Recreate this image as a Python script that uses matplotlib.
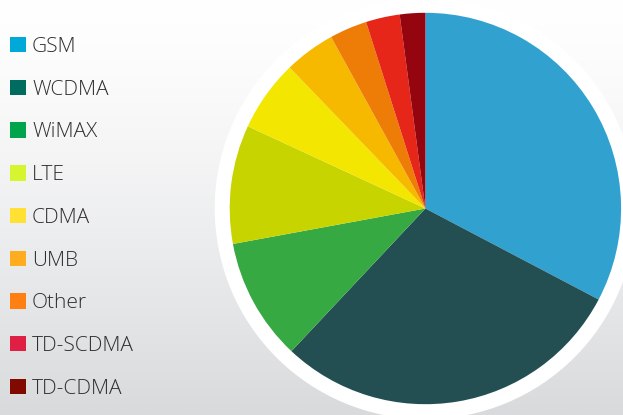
import numpy as np
import matplotlib
matplotlib.use('Agg')
from matplotlib import pyplot as plt
from matplotlib.patches import Patch, Circle

# market share of mobile technologies (percent)
techs = ['GSM', 'WCDMA', 'WiMAX', 'LTE', 'CDMA', 'UMB', 'Other', 'TD-SCDMA', 'TD-CDMA']
share = [32.7, 29.3, 10.1, 9.8, 5.9, 4.2, 3.1, 2.8, 2.1]

pie_cols = ['#31a2cf', '#234f53', '#36a942', '#c8d400', '#f3e600',
            '#f7b800', '#ee7d08', '#e52618', '#950510']
legend_cols = ['#00a9d8', '#006c60', '#00a44a', '#d7f52f', '#ffe033',
               '#ffad1f', '#ff7f11', '#e01f45', '#800a00']

fig = plt.figure(figsize=(6.23, 4.15), dpi=100)

# background gradient
bg = fig.add_axes([0, 0, 1, 1])
grad = np.linspace(0, 1, 256) ** 1.3
rgb_top = np.array([1.0, 1.0, 1.0])
rgb_bot = np.array([0xd8, 0xda, 0xdc]) / 255.0
img = rgb_top[None, None, :] * (1 - grad[:, None, None]) + rgb_bot[None, None, :] * grad[:, None, None]
bg.imshow(img, aspect='auto', extent=[0, 1, 0, 1])
bg.axis('off')

# pie axes, square in pixels
W, H = 623, 415
cx, cy, r = 425.4, 208.5, 195.7
half = 1.1 * r
ax = fig.add_axes([(cx - half) / W, (H - cy - half) / H, 2 * half / W, 2 * half / H])
ax.add_patch(Circle((0, 0), 210 / r, color='white', zorder=0))
ax.pie(share, colors=pie_cols, startangle=90, counterclock=False,
       wedgeprops=dict(linewidth=0), radius=1)
ax.set_xlim(-1.1, 1.1)
ax.set_ylim(-1.1, 1.1)
ax.axis('off')

handles = [Patch(facecolor=c, edgecolor='none') for c in legend_cols]
fig.legend(handles, techs, loc='upper left', bbox_to_anchor=(10 / W, 1 - 37 / H),
           frameon=False, borderpad=0, borderaxespad=0,
           handlelength=0.76, handleheight=0.76, handletextpad=0.3,
           labelspacing=1.09,
           prop={'family': 'Open Sans', 'size': 15, 'weight': 'light'},
           labelcolor='#2e2e2e')

fig.savefig('out.png', dpi=100)
